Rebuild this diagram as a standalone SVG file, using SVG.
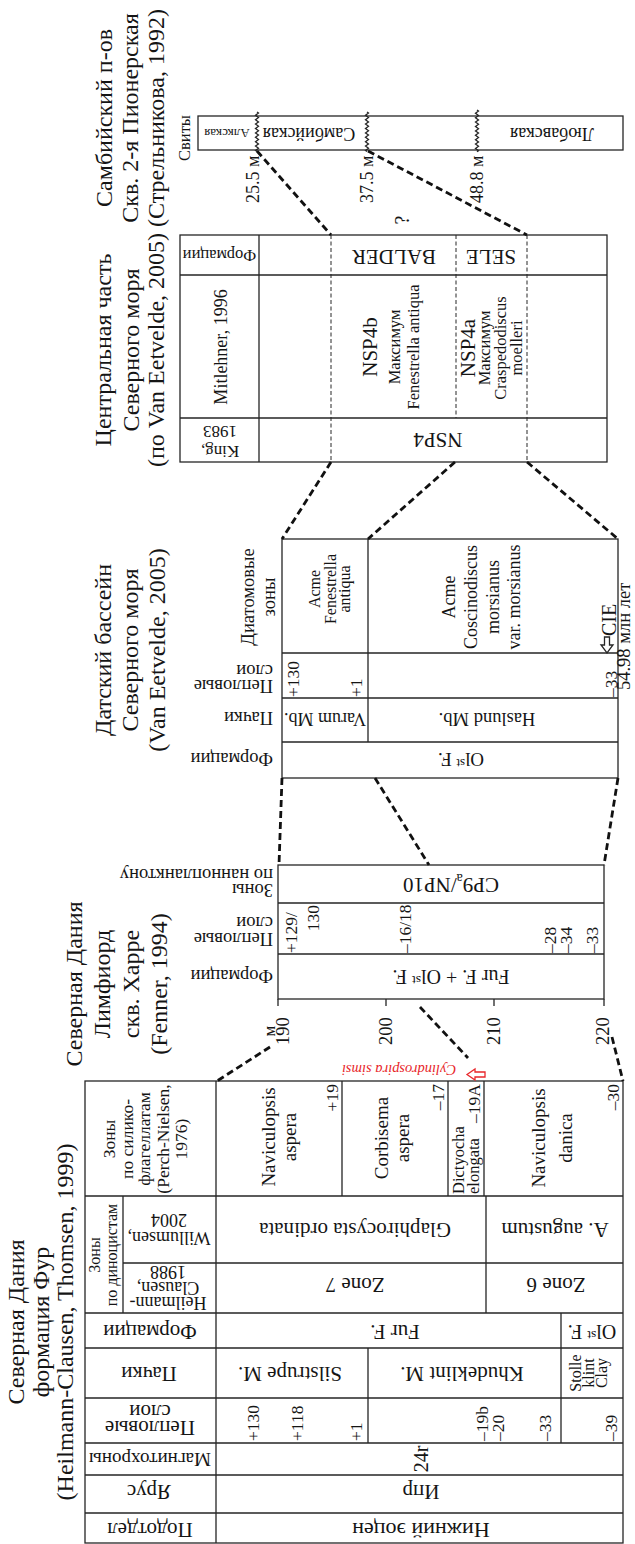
<svg xmlns="http://www.w3.org/2000/svg" width="635" height="1544" viewBox="0 0 635 1544">
<style>
text{font-family:"Liberation Serif","Times New Roman",serif;fill:#151515}
.ln{stroke:#262626;stroke-width:1.3;fill:none}
.cn{stroke:#111;stroke-width:2.8;stroke-dasharray:7 4;fill:none}
.dl{stroke:#262626;stroke-width:1;stroke-dasharray:4 2.5;fill:none}
.ti{font-size:24px}
.hd{font-size:21px}
.hs{font-size:18.5px}
.zn{font-size:19px}
.lb{font-size:17.5px}
.red{fill:#e8262a;font-style:italic}
</style>
<rect width="635" height="1544" fill="#fff"/>

<g id="sambia">
<rect class="ln" x="198" y="116" width="425" height="34"/>
<path class="ln" d="M257,112 l1.5,1.1 l-3,2.2 l3,2.2 l-3,2.2 l3,2.2 l-3,2.2 l3,2.2 l-3,2.2 l3,2.2 l-3,2.2 l3,2.2 l-3,2.2 l3,2.2 l-3,2.2 l3,2.2 l-3,2.2 l3,2.2 l-3,2.2 l1.5,1.1"/>
<path class="ln" d="M367,112 l1.5,1.1 l-3,2.2 l3,2.2 l-3,2.2 l3,2.2 l-3,2.2 l3,2.2 l-3,2.2 l3,2.2 l-3,2.2 l3,2.2 l-3,2.2 l3,2.2 l-3,2.2 l3,2.2 l-3,2.2 l3,2.2 l-3,2.2 l1.5,1.1"/>
<path class="ln" d="M477,110 l1.5,1.1 l-3,2.2 l3,2.2 l-3,2.2 l3,2.2 l-3,2.2 l3,2.2 l-3,2.2 l3,2.2 l-3,2.2 l3,2.2 l-3,2.2 l3,2.2 l-3,2.2 l3,2.2 l-3,2.2 l3,2.2 l-3,2.2 l3,2.2 l-1.5,1.1"/>
<text class="ti" text-anchor="middle" transform="translate(112,118) rotate(-90)"><tspan x="0">Самбийский п-ов</tspan><tspan x="0" dy="26">Скв. 2-я Пионерская</tspan><tspan x="0" dy="26">(Стрельникова, 1992)</tspan></text>
<text font-size="16.5" text-anchor="middle" transform="translate(190,138) rotate(-90)">Свиты</text>
<text font-size="13" text-anchor="middle" transform="translate(227,128.5) rotate(180)">Алкская</text>
<text font-size="18" text-anchor="middle" transform="translate(309,127.5) rotate(180)">Самбийская</text>
<text font-size="18" text-anchor="middle" transform="translate(552,127.5) rotate(180)">Любавская</text>
<text font-size="18" transform="translate(259,203) rotate(-90)">25.5 м</text>
<text font-size="18" transform="translate(373,203) rotate(-90)">37.5 м</text>
<text font-size="18" transform="translate(483,203) rotate(-90)">48.8 м</text>
</g>

<g id="query">
<text font-size="20" text-anchor="middle" transform="translate(409,220) rotate(-90)">?</text>
</g>

<g id="central-north-sea">
<rect class="ln" x="180" y="235" width="427" height="227"/>
<path class="ln" d="M259,235V462M180,275H607M180,418H607"/>
<path class="dl" d="M331,235V462M527,235V462M456,235V418"/>
<text class="ti" text-anchor="middle" transform="translate(111,350) rotate(-90)"><tspan x="0">Центральная часть</tspan><tspan x="0" dy="28">Северного моря</tspan><tspan x="0" dy="25">(по Van Eetvelde, 2005)</tspan></text>
<text font-size="16.5" text-anchor="middle" transform="translate(219.5,250) rotate(180)">Формации</text>
<text font-size="18" text-anchor="middle" transform="translate(227,347) rotate(-90)">Mitlehner, 1996</text>
<text font-size="17" text-anchor="middle" transform="translate(220,446) rotate(180)"><tspan x="0">King,</tspan><tspan x="0" dy="20">1983</tspan></text>
<text font-size="21" text-anchor="middle" transform="translate(394,250) rotate(180)">BALDER</text>
<text font-size="21" text-anchor="middle" transform="translate(491,250) rotate(180)">SELE</text>
<text text-anchor="middle" transform="translate(377,347) rotate(-90)"><tspan x="0" font-size="21">NSP4b</tspan><tspan x="0" dy="23" font-size="16.5">Максимум</tspan><tspan x="0" dy="19" font-size="16.5">Fenestrella antiqua</tspan></text>
<text text-anchor="middle" transform="translate(475,348) rotate(-90)"><tspan x="0" font-size="21">NSP4a</tspan><tspan x="0" dy="15" font-size="16.5">Максимум</tspan><tspan x="0" dy="16" font-size="16.5">Craspedodiscus</tspan><tspan x="0" dy="16" font-size="16.5">moelleri</tspan></text>
<text font-size="21" text-anchor="middle" transform="translate(438,433) rotate(180)">NSP4</text>
</g>

<g id="danish-basin">
<rect class="ln" x="282" y="539" width="336" height="239"/>
<path class="ln" d="M282,653H618M282,698H618M282,742H618M368,539V742"/>
<text class="ti" text-anchor="middle" transform="translate(111,650) rotate(-90)"><tspan x="0">Датский бассейн</tspan><tspan x="0" dy="27">Северного моря</tspan><tspan x="0" dy="27">(Van Eetvelde, 2005)</tspan></text>
<text class="hs" text-anchor="middle" transform="translate(254,597) rotate(-90)"><tspan x="0">Диатомовые</tspan><tspan x="0" dy="21">зоны</tspan></text>
<text class="hs" transform="translate(273,680) rotate(180)"><tspan x="0">Пепловые</tspan><tspan x="0" dy="15">слои</tspan></text>
<text class="hs" transform="translate(273,712) rotate(180)">Пачки</text>
<text class="hs" transform="translate(273,753) rotate(180)">Формации</text>
<text font-size="16" text-anchor="middle" transform="translate(320,589) rotate(-90)"><tspan x="0">Acme</tspan><tspan x="0" dy="15.5">Fenestrella</tspan><tspan x="0" dy="14.5">antiqua</tspan></text>
<text font-size="18" text-anchor="middle" transform="translate(455,597) rotate(-90)"><tspan x="0">Acme</tspan><tspan x="0" dy="22">Coscinodiscus</tspan><tspan x="0" dy="22">morsianus</tspan><tspan x="0" dy="21">var. morsianus</tspan></text>
<text class="lb" transform="translate(299,697) rotate(-90)">+130</text>
<text class="lb" transform="translate(362,697) rotate(-90)">+1</text>
<text class="lb" transform="translate(617,697) rotate(-90)">–33</text>
<path class="ln" d="M604.5,637H609.5V645H613L607,653L601,645H604.5Z" fill="#fff"/>
<text font-size="20" transform="translate(616,636) rotate(-90)">CIE</text>
<text font-size="18.5" transform="translate(630,690) rotate(-90)">54.98 млн лет</text>
<text font-size="18" text-anchor="middle" transform="translate(325,713) rotate(180)">Varum Mb.</text>
<text font-size="18.5" text-anchor="middle" transform="translate(487,713) rotate(180)">Haslund Mb.</text>
<text font-size="19" text-anchor="middle" transform="translate(461,753) rotate(180)">Ol<tspan font-size="13" dy="-6">st</tspan><tspan dy="6"> F.</tspan></text>
</g>

<g id="limfjord">
<rect class="ln" x="278" y="865" width="326" height="134"/>
<path class="ln" d="M278,903H604M278,954H604M278,999V1006M386,999V1006M494,999V1006M604,999V1006"/>
<text class="ti" text-anchor="middle" transform="translate(82,984) rotate(-90)"><tspan x="0">Северная Дания</tspan><tspan x="0" dy="28">Лимфиорд</tspan><tspan x="0" dy="29">скв. Харре</tspan><tspan x="0" dy="28">(Fenner, 1994)</tspan></text>
<text class="hs" transform="translate(273,884) rotate(180)"><tspan x="0">Зоны</tspan><tspan x="0" dy="15">по наннопланктону</tspan></text>
<text class="hs" transform="translate(273,933) rotate(180)"><tspan x="0">Пепловые</tspan><tspan x="0" dy="16">слои</tspan></text>
<text class="hs" transform="translate(273,970) rotate(180)">Формации</text>
<text font-size="21" text-anchor="middle" transform="translate(451,878) rotate(180)">CP9<tspan font-size="14" dy="4">a</tspan><tspan dy="-4">/NP10</tspan></text>
<text class="lb" transform="translate(297,953) rotate(-90)">+129/</text>
<text class="lb" text-anchor="end" transform="translate(319,905) rotate(-90)">130</text>
<text class="lb" transform="translate(411,953) rotate(-90)">–16/18</text>
<text class="lb" transform="translate(556,953) rotate(-90)">–28</text>
<text class="lb" transform="translate(572,953) rotate(-90)">–34</text>
<text class="lb" transform="translate(598,953) rotate(-90)">–33</text>
<text font-size="20" text-anchor="middle" transform="translate(451,970) rotate(180)">Fur F. + Ol<tspan font-size="13.5" dy="-6">st</tspan><tspan dy="6"> F.</tspan></text>
<text font-size="17" text-anchor="middle" transform="translate(275,1031) rotate(-90)">м</text>
<text font-size="18.5" text-anchor="middle" transform="translate(289,1031) rotate(-90)">190</text>
<text font-size="18.5" text-anchor="middle" transform="translate(392,1031) rotate(-90)">200</text>
<text font-size="18.5" text-anchor="middle" transform="translate(500,1031) rotate(-90)">210</text>
<text font-size="18.5" text-anchor="middle" transform="translate(609,1031) rotate(-90)">220</text>
</g>

<g id="fur-formation">
<rect class="ln" x="85" y="1081" width="538" height="462"/>
<path class="ln" d="M216,1081V1543M85,1196H623M123,1263H623M123,1196V1313M85,1313H623M85,1348H623M85,1398H623M85,1443H623M85,1475H623M85,1513H623M342,1081V1196M448,1081V1196M484,1081V1196M486,1196V1313M561,1313V1443M368,1348V1443"/>
<text class="ti" text-anchor="middle" transform="translate(24,1322) rotate(-90)"><tspan x="0">Северная Дания</tspan><tspan x="0" dy="25">формация Фур</tspan><tspan x="0" dy="24">(Heilmann-Clausen, Thomsen, 1999)</tspan></text>
<text font-size="17.5" text-anchor="middle" transform="translate(115,1139) rotate(-90)"><tspan x="0">Зоны</tspan><tspan x="0" dy="18">по силико-</tspan><tspan x="0" dy="17">флагеллатам</tspan><tspan x="0" dy="19">(Perch-Nielsen,</tspan><tspan x="0" dy="18">1976)</tspan></text>
<text font-size="16" text-anchor="middle" transform="translate(100,1255) rotate(-90)"><tspan x="0">Зоны</tspan><tspan x="0" dy="17">по диноцистам</tspan></text>
<text font-size="18" text-anchor="middle" transform="translate(169,1232) rotate(180)"><tspan x="0">Willumsen,</tspan><tspan x="0" dy="18.5">2004</tspan></text>
<text font-size="18" text-anchor="middle" transform="translate(168,1297) rotate(180)"><tspan x="0">Heilmann-</tspan><tspan x="0" dy="15.5">Clausen,</tspan><tspan x="0" dy="16">1988</tspan></text>
<text class="hd" text-anchor="middle" transform="translate(150,1325) rotate(180)">Формации</text>
<text class="hd" text-anchor="middle" transform="translate(149,1367) rotate(180)">Пачки</text>
<text class="hd" text-anchor="middle" transform="translate(150,1421) rotate(180)"><tspan x="0">Пепловые</tspan><tspan x="0" dy="16">слои</tspan></text>
<text font-size="19" text-anchor="middle" transform="translate(150,1453) rotate(180)">Магнитохроны</text>
<text class="hd" text-anchor="middle" transform="translate(149,1485) rotate(180)">Ярус</text>
<text class="hd" text-anchor="middle" transform="translate(150,1523) rotate(180)">Подотдел</text>

<text class="zn" text-anchor="middle" transform="translate(275,1137) rotate(-90)"><tspan x="0">Naviculopsis</tspan><tspan x="0" dy="21">aspera</tspan></text>
<text class="lb" text-anchor="end" transform="translate(338,1084) rotate(-90)">+19</text>
<text class="zn" text-anchor="middle" transform="translate(388,1138) rotate(-90)"><tspan x="0">Corbisema</tspan><tspan x="0" dy="21">aspera</tspan></text>
<text class="lb" text-anchor="end" transform="translate(444,1084) rotate(-90)">–17</text>
<text font-size="16.5" transform="translate(464,1194) rotate(-90)"><tspan x="0">Dictyocha</tspan><tspan x="0" dy="15">elongata</tspan></text>
<text class="lb" text-anchor="end" transform="translate(480,1084) rotate(-90)">–19A</text>
<text class="zn" text-anchor="middle" transform="translate(545,1138) rotate(-90)"><tspan x="0">Naviculopsis</tspan><tspan x="0" dy="27">danica</tspan></text>
<text class="lb" text-anchor="end" transform="translate(619,1084) rotate(-90)">–30</text>

<text class="hd" text-anchor="middle" transform="translate(355,1223) rotate(180)">Glaphirocysta ordinata</text>
<text class="hd" text-anchor="middle" transform="translate(555,1223) rotate(180)">A. augustum</text>
<text class="hd" text-anchor="middle" transform="translate(355,1278) rotate(180)">Zone 7</text>
<text class="hd" text-anchor="middle" transform="translate(556,1278) rotate(180)">Zone 6</text>
<text class="hd" text-anchor="middle" transform="translate(395,1325) rotate(180)">Fur F.</text>
<text font-size="20" text-anchor="middle" transform="translate(592,1325) rotate(180)">Ol<tspan font-size="13.5" dy="-6">st</tspan><tspan dy="6"> F.</tspan></text>
<text class="hd" text-anchor="middle" transform="translate(290,1367) rotate(180)">Silstrupe M.</text>
<text class="hd" text-anchor="middle" transform="translate(462,1367) rotate(180)">Khudeklint M.</text>
<text font-size="16" text-anchor="middle" transform="translate(581,1373) rotate(-90)"><tspan x="0">Stolle</tspan><tspan x="0" dy="13">klint</tspan><tspan x="0" dy="13">Clay</tspan></text>
<text class="lb" transform="translate(259,1441) rotate(-90)">+130</text>
<text class="lb" transform="translate(303,1441) rotate(-90)">+118</text>
<text class="lb" transform="translate(362,1441) rotate(-90)">+1</text>
<text class="lb" transform="translate(488,1441) rotate(-90)">–19b</text>
<text class="lb" transform="translate(504,1441) rotate(-90)">–20</text>
<text class="lb" transform="translate(551,1441) rotate(-90)">–33</text>
<text class="lb" transform="translate(617,1441) rotate(-90)">–39</text>
<text font-size="20" text-anchor="middle" transform="translate(428,1459) rotate(-90)">24r</text>
<text class="hd" text-anchor="middle" transform="translate(421,1485) rotate(180)">Ипр</text>
<text font-size="22" text-anchor="middle" transform="translate(421,1523) rotate(180)">Нижний эоцен</text>
</g>

<g id="cylindrospira-note">
<text class="red" font-size="14.5" text-anchor="middle" transform="translate(399,1065) rotate(180)">Cylindrospira simsi</text>
<path d="M467,1074.5L475,1069V1072H485V1077H475V1080Z" fill="#fff" stroke="#e8262a" stroke-width="1.3"/>
</g>

<g id="connectors">
<path class="cn" d="M257,151L331,235M368,151L527,235"/>
<path class="cn" d="M331,462L282,539M455,462L368,539M527,462L618,539"/>
<path class="cn" d="M282,778L279,865M375,778L429,865M618,778L604,865"/>
<path class="cn" d="M270,1047L217,1081M420,1007L468,1058M612,1037L623,1081"/>
</g>
</svg>
